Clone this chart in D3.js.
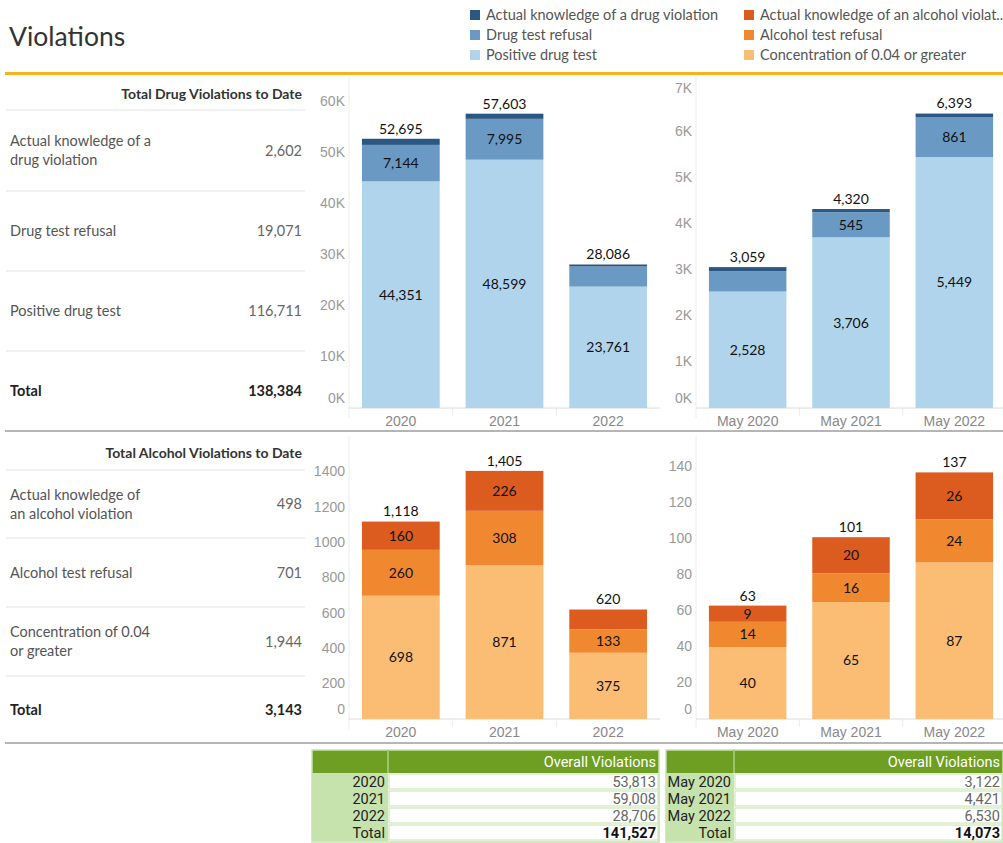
<!DOCTYPE html>
<html>
<head>
<meta charset="utf-8">
<script src="https://cdn.jsdelivr.net/npm/d3@7"></script>
<style>
  body { margin: 0; background: #fff; }
  svg { font-family: Lato, "Open Sans", sans-serif; }
</style>
</head>
<body>
<div id="viz"></div>
<script>
// ---- data ----
const years = ["2020", "2021", "2022"];
const months = ["May 2020", "May 2021", "May 2022"];

const drugKeys = ["Positive drug test", "Drug test refusal", "Actual knowledge of a drug violation"];
const drugPositiveYear = [44351, 48599, 23761];
const drugRefusalYear = [7144, 7995, 3932];
const drugKnowYear = [1200, 1009, 393];
const drugPositiveMay = [2528, 3706, 5449];
const drugRefusalMay = [440, 545, 861];
const drugKnowMay = [91, 69, 83];

const alcKeys = ["Concentration of 0.04 or greater", "Alcohol test refusal", "Actual knowledge of an alcohol violation"];
const alcConcYear = [698, 871, 375];
const alcRefusalYear = [260, 308, 133];
const alcKnowYear = [160, 226, 112];
const alcConcMay = [40, 65, 87];
const alcRefusalMay = [14, 16, 24];
const alcKnowMay = [9, 20, 26];

const drugTicks = [0, 10000, 20000, 30000, 40000, 50000, 60000];
const drugMayTicks = [0, 1000, 2000, 3000, 4000, 5000, 6000, 7000];
const alcTicks = [0, 200, 400, 600, 800, 1000, 1200, 1400];
const alcMayTicks = [0, 20, 40, 60, 80, 100, 120, 140];

const drugColors = ["#b0d4ec", "#6a9ac4", "#2a5783"];
const alcColors = ["#fbbc74", "#f0882f", "#dc5b1f"];

const fmt = d3.format(",");
const width = 1003, height = 843;

let svg = d3.select("#viz").append("svg")
    .attr("width", width)
    .attr("height", height);

// title + rule
svg.append("text").attr("x", 9).attr("y", 46)
    .attr("font-size", 26.5).attr("fill", "#333").text("Violations");
svg.append("rect").attr("x", 5).attr("y", 72).attr("width", width - 5).attr("height", 3).attr("fill", "#f9b21b");

// legend
const legendItems = [
    { t: "Actual knowledge of a drug violation", c: drugColors[2], col: 0, row: 0 },
    { t: "Drug test refusal", c: drugColors[1], col: 0, row: 1 },
    { t: "Positive drug test", c: drugColors[0], col: 0, row: 2 },
    { t: "Actual knowledge of an alcohol violat..", c: alcColors[2], col: 1, row: 0 },
    { t: "Alcohol test refusal", c: alcColors[1], col: 1, row: 1 },
    { t: "Concentration of 0.04 or greater", c: alcColors[0], col: 1, row: 2 }
];
let lg = svg.selectAll(".lg").data(legendItems).join("g")
    .attr("transform", d => `translate(${470 + d.col * 274},${15 + d.row * 20})`);
lg.append("rect").attr("x", 0).attr("y", -5).attr("width", 10).attr("height", 10).attr("fill", d => d.c);
lg.append("text").attr("x", 16).attr("dy", "0.35em").attr("font-size", 14.5).attr("fill", "#555").text(d => d.t);

// section dividers
[431, 743].forEach(yy => {
    svg.append("rect").attr("x", 5).attr("y", yy - 1).attr("width", width - 5).attr("height", 2).attr("fill", "#b5b5b5");
});

// left summary tables
function summary(title, rows, top, lines) {
    svg.append("text").attr("x", 302).attr("y", top).attr("dy", "0.35em")
        .attr("text-anchor", "end").attr("font-size", 14).attr("font-weight", "bold")
        .attr("fill", "#333").text(title);
    lines.forEach((ly, i) => {
        if (i < lines.length - 1)
            svg.append("line").attr("x1", 6).attr("x2", 305).attr("y1", ly).attr("y2", ly)
                .attr("stroke", "#e3e3e3").attr("stroke-width", 1.2);
    });
    rows.forEach((r, i) => {
        const cy = (lines[i] + lines[i + 1]) / 2;
        const bold = r.total;
        let t = svg.append("text").attr("x", 10).attr("y", cy)
            .attr("font-size", 14.5).attr("fill", bold ? "#222" : "#555")
            .attr("font-weight", bold ? "bold" : "normal");
        r.label.forEach((s, j) => {
            t.append("tspan").attr("x", 10)
                .attr("dy", j === 0 ? `${0.35 - (r.label.length - 1) * 0.66}em` : "1.32em")
                .text(s);
        });
        svg.append("text").attr("x", 302).attr("y", cy).attr("dy", "0.35em")
            .attr("text-anchor", "end").attr("font-size", 14.5)
            .attr("font-weight", bold ? "bold" : "normal")
            .attr("fill", bold ? "#222" : "#666").text(fmt(r.value));
    });
}

const dKnow = d3.sum(drugKnowYear), dRef = d3.sum(drugRefusalYear), dPos = d3.sum(drugPositiveYear);
summary("Total Drug Violations to Date", [
    { label: ["Actual knowledge of a", "drug violation"], value: dKnow },
    { label: ["Drug test refusal"], value: dRef },
    { label: ["Positive drug test"], value: dPos },
    { label: ["Total"], value: dKnow + dRef + dPos, total: true }
], 94, [110, 191, 271, 351, 431]);

const aKnow = d3.sum(alcKnowYear), aRef = d3.sum(alcRefusalYear), aConc = d3.sum(alcConcYear);
summary("Total Alcohol Violations to Date", [
    { label: ["Actual knowledge of", "an alcohol violation"], value: aKnow },
    { label: ["Alcohol test refusal"], value: aRef },
    { label: ["Concentration of 0.04", "or greater"], value: aConc },
    { label: ["Total"], value: aKnow + aRef + aConc, total: true }
], 453, [470, 538, 607, 676, 743]);

// stacked bar chart
function stackChart(o) {
    const keys = o.keys;
    const rows = o.cats.map((c, i) => {
        const r = { cat: c };
        keys.forEach((k, j) => r[k] = o.layers[j][i]);
        return r;
    });
    const series = d3.stack().keys(keys)(rows);

    let x = d3.scaleBand()
        .domain(o.cats)
        .range([o.x0, o.x1])
        .paddingInner(0.25)
        .paddingOuter(0.125);
    let y = d3.scaleLinear()
        .domain([0, o.max])
        .range([o.bottom, o.top]);

    let g = svg.append("g");

    // faint left edge + category separators
    g.append("line").attr("x1", o.x0).attr("x2", o.x0).attr("y1", o.top - 4).attr("y2", o.bottom + 10)
        .attr("stroke", "#ececec");
    o.cats.slice(1).forEach(c => {
        const xx = x(c) - x.step() * x.paddingInner() / 2;
        g.append("line").attr("x1", xx).attr("x2", xx).attr("y1", o.bottom).attr("y2", o.bottom + 8)
            .attr("stroke", "#ececec");
    });

    // y axis
    let ya = g.append("g")
        .attr("transform", `translate(${o.x0},0)`)
        .call(d3.axisLeft(y).tickValues(o.ticks).tickFormat(o.tickFmt).tickSize(0).tickPadding(4));
    ya.select(".domain").remove();
    ya.selectAll("text").attr("fill", "#999").attr("font-size", 14).attr("font-family", null);
    ya.selectAll(".tick").attr("transform", d => {
        let yy = y(d);
        yy = Math.min(yy, o.bottom - 9.5);
        yy = Math.max(yy, o.top + 8);
        return `translate(0,${yy})`;
    });

    // x axis
    let xa = g.append("g")
        .attr("transform", `translate(0,${o.bottom})`)
        .call(d3.axisBottom(x).tickSize(0).tickPadding(8));
    xa.select(".domain").attr("stroke", "#dcdcdc").attr("d", `M${o.x0},0H${o.x1}`);
    xa.selectAll("text").attr("fill", "#888").attr("font-size", 14).attr("font-family", null);

    // bars
    series.forEach((s, j) => {
        g.selectAll(null).data(s).join("rect")
            .attr("x", d => x(d.data.cat))
            .attr("width", x.bandwidth())
            .attr("y", d => y(d[1]))
            .attr("height", d => y(d[0]) - y(d[1]))
            .attr("fill", o.colors[j]);
        g.selectAll(null).data(s.filter(d => {
                const h = y(d[0]) - y(d[1]);
                const v = String(d[1] - d[0]);
                return h >= 21 || (h >= 15 && v.length < 2);
            }))
            .join("text")
            .attr("x", d => x(d.data.cat) + x.bandwidth() / 2)
            .attr("y", d => (y(d[0]) + y(d[1])) / 2)
            .attr("dy", "0.35em")
            .attr("text-anchor", "middle")
            .attr("font-size", 14)
            .attr("fill", "#111")
            .text(d => fmt(d[1] - d[0]));
    });

    // totals
    g.selectAll(null).data(rows).join("text")
        .attr("x", d => x(d.cat) + x.bandwidth() / 2)
        .attr("y", d => y(d3.sum(keys, k => d[k])) - 10)
        .attr("dy", "0.35em")
        .attr("text-anchor", "middle")
        .attr("font-size", 14)
        .attr("fill", "#111")
        .text(d => fmt(d3.sum(keys, k => d[k])));
}

const kFmt = d => (d / 1000) + "K";

stackChart({ cats: years, keys: drugKeys, layers: [drugPositiveYear, drugRefusalYear, drugKnowYear],
    colors: drugColors, max: 64000, ticks: drugTicks, tickFmt: kFmt, x0: 349, x1: 660, top: 81, bottom: 408 });
stackChart({ cats: months, keys: drugKeys, layers: [drugPositiveMay, drugRefusalMay, drugKnowMay],
    colors: drugColors, max: 7100, ticks: drugMayTicks, tickFmt: kFmt, x0: 696, x1: 1006, top: 81, bottom: 408 });
stackChart({ cats: years, keys: alcKeys, layers: [alcConcYear, alcRefusalYear, alcKnowYear],
    colors: alcColors, max: 1580, ticks: alcTicks, tickFmt: d => d, x0: 349, x1: 660, top: 440, bottom: 719 });
stackChart({ cats: months, keys: alcKeys, layers: [alcConcMay, alcRefusalMay, alcKnowMay],
    colors: alcColors, max: 155, ticks: alcMayTicks, tickFmt: d => d, x0: 696, x1: 1006, top: 440, bottom: 719 });

// overall tables
function overall(cats, vals, x0, c1, x1) {
    const rowsY = [773, 790, 807, 824, 841];
    let g = svg.append("g").attr("font-family", "'Liberation Sans Narrow', 'Roboto', sans-serif").attr("font-size", 14.5);
    g.append("rect").attr("x", x0).attr("y", 750).attr("width", x1 - x0).attr("height", 23).attr("fill", "#6e9e22");
    g.append("rect").attr("x", x0).attr("y", 750).attr("width", x1 - x0).attr("height", 92)
        .attr("fill", "none").attr("stroke", "#c6e2ad").attr("stroke-width", 1.5);
    g.append("line").attr("x1", c1).attr("x2", c1).attr("y1", 750).attr("y2", 773).attr("stroke", "#9cc46a").attr("stroke-width", 2);
    g.append("text").attr("x", x1 - 3).attr("y", 762).attr("dy", "0.35em").attr("text-anchor", "end")
        .attr("fill", "#fff").text("Overall Violations");
    const labels = cats.concat(["Total"]);
    const values = vals.concat([d3.sum(vals)]);
    labels.forEach((l, i) => {
        const yT = rowsY[i], yB = rowsY[i + 1];
        g.append("rect").attr("x", x0).attr("y", yT).attr("width", c1 - x0).attr("height", yB - yT).attr("fill", "#c6e3ad");
        g.append("rect").attr("x", c1 + 1).attr("y", yT + 1).attr("width", x1 - c1 - 2).attr("height", yB - yT - 2)
            .attr("fill", "#fff").attr("stroke", "#c6e3ad").attr("stroke-width", 1);
        const last = i === labels.length - 1;
        g.append("text").attr("x", c1 - 3).attr("y", (yT + yB) / 2).attr("dy", "0.36em")
            .attr("text-anchor", "end").attr("fill", "#222").text(l);
        g.append("text").attr("x", x1 - 3).attr("y", (yT + yB) / 2).attr("dy", "0.36em")
            .attr("text-anchor", "end").attr("fill", last ? "#111" : "#666")
            .attr("font-weight", last ? "bold" : "normal").text(fmt(values[i]));
    });
}

const overallYear = years.map((c, i) => drugPositiveYear[i] + drugRefusalYear[i] + drugKnowYear[i]
    + alcConcYear[i] + alcRefusalYear[i] + alcKnowYear[i]);
const overallMay = months.map((c, i) => drugPositiveMay[i] + drugRefusalMay[i] + drugKnowMay[i]
    + alcConcMay[i] + alcRefusalMay[i] + alcKnowMay[i]);

overall(years, overallYear, 312, 388, 659);
overall(months, overallMay, 666, 734, 1003);
</script>
</body>
</html>
